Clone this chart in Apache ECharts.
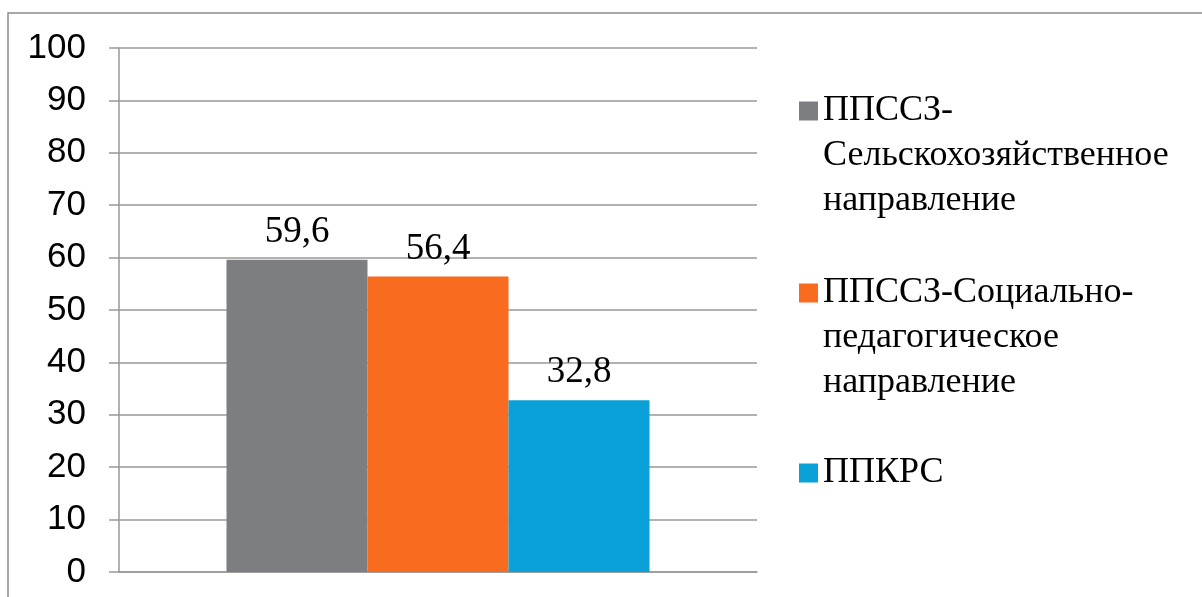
<!DOCTYPE html>
<html>
<head>
<meta charset="utf-8">
<script src="https://cdn.jsdelivr.net/npm/echarts@6/dist/echarts.min.js"></script>
<style>
html,body{margin:0;padding:0;background:#fff;}
#main{width:1202px;height:597px;}
</style>
</head>
<body>
<div id="main"></div>
<script>
const categories = [''];
const seriesNames = [
  'ППССЗ-Сельскохозяйственное направление',
  'ППССЗ-Социально-педагогическое направление',
  'ППКРС'
];
const legendLines = [
  ['ППССЗ-', 'Сельскохозяйственное', 'направление'],
  ['ППССЗ-Социально-', 'педагогическое', 'направление'],
  ['ППКРС']
];
const seriesValues = [[59.6], [56.4], [32.8]];
const seriesColors = ['#7d7e82', '#f96b1f', '#0aa1d9'];
const yTicks = [0, 10, 20, 30, 40, 50, 60, 70, 80, 90, 100];

const chart = echarts.init(document.getElementById('main'));
const LH = 45;
const legendPads = [[2 * LH, 0, 0, 0], [2 * LH, 0, 0, 0], [88, 0, 88, 0]];
const serif = '"Liberation Serif", "Times New Roman", serif';

chart.setOption({
  animation: false,
  graphic: [{
    type: 'rect',
    shape: { x: 8, y: 13, width: 1400, height: 800 },
    style: { fill: 'none', stroke: '#8c8c8c', lineWidth: 1.5 },
    silent: true
  }],
  grid: { left: 119, right: 445, top: 48, bottom: 25, containLabel: false },
  legend: {
    orient: 'vertical',
    left: 799,
    top: -1.5,
    padding: 0,
    itemGap: -43,
    itemWidth: 19,
    itemHeight: 19,
    icon: 'rect',
    formatter: function (name) {
      return legendLines[seriesNames.indexOf(name)].map(function (s) { return '{t|' + s + '}'; }).join('\n');
    },
    textStyle: {
      fontFamily: serif,
      fontSize: 36,
      lineHeight: LH,
      color: '#000',
      rich: { t: { fontFamily: serif, fontSize: 36, lineHeight: LH, color: '#000' } }
    },
    data: seriesNames.map(function (n, i) {
      return { name: n, textStyle: { padding: legendPads[i] } };
    })
  },
  xAxis: {
    type: 'category',
    data: categories,
    axisLine: { show: true, lineStyle: { color: '#999', width: 1.5 } },
    axisTick: { show: false },
    axisLabel: { show: false }
  },
  yAxis: {
    type: 'value',
    min: yTicks[0],
    max: yTicks[yTicks.length - 1],
    interval: 10,
    axisLine: { show: true, lineStyle: { color: '#999', width: 1.5 } },
    axisTick: { show: true, length: 10, lineStyle: { color: '#999', width: 1.5 } },
    splitLine: { show: true, lineStyle: { color: '#999', width: 1.5 } },
    axisLabel: {
      margin: 33,
      fontFamily: '"Liberation Sans", Arial, sans-serif',
      fontSize: 35,
      color: '#000'
    }
  },
  series: seriesNames.map(function (n, i) {
    return {
      name: n,
      type: 'bar',
      data: seriesValues[i],
      barWidth: 141,
      barGap: '0%',
      itemStyle: { color: seriesColors[i] },
      label: {
        show: true,
        position: 'top',
        distance: 9,
        formatter: function (p) { return String(p.value).replace('.', ','); },
        fontFamily: serif,
        fontSize: 37,
        color: '#000'
      }
    };
  })
});
</script>
</body>
</html>
